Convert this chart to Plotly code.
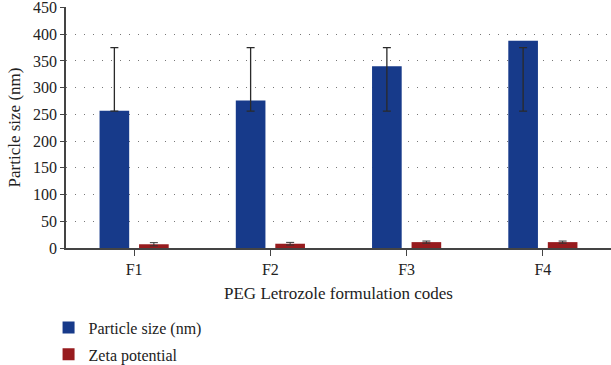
import plotly.graph_objects as go

categories = ["F1", "F2", "F3", "F4"]
particle_size = [257, 276, 340, 388]
particle_err_upper = [375, 375, 375, 375]
particle_err_lower = [256, 256, 256, 256]
zeta_potential = [7, 8, 11, 11]
zeta_err = [3, 2.5, 2, 2]
y_ticks = [0, 50, 100, 150, 200, 250, 300, 350, 400, 450]

FONT = "Liberation Serif"
BLUE = "#173a8a"
RED = "#971b1e"

fig = go.Figure()
fig.add_trace(go.Bar(
    x=categories, y=particle_size, name="Particle size (nm)",
    marker=dict(color=BLUE, line=dict(width=0)),
    error_y=dict(type="data", symmetric=False,
                 array=[u - v for u, v in zip(particle_err_upper, particle_size)],
                 arrayminus=[v - l for v, l in zip(particle_size, particle_err_lower)],
                 color="#2a2a2a", thickness=1.3, width=4),
    legendgroup="a",
))
fig.add_trace(go.Bar(
    x=categories, y=zeta_potential, name="Zeta potential",
    marker=dict(color=RED, line=dict(width=0)),
    error_y=dict(type="data", array=zeta_err, color="#333333", thickness=1, width=4),
    legendgroup="b",
))

fig.update_layout(
    width=611, height=365,
    margin=dict(l=66, r=0, t=7, b=117, autoexpand=False),
    paper_bgcolor="white", plot_bgcolor="white",
    barmode="group", bargap=0.42, bargroupgap=0.25,
    font=dict(family=FONT, size=16, color="#222222"),
    showlegend=True,
    legend=dict(orientation="v", x=-0.032, xanchor="left", y=-0.26, yanchor="top",
                font=dict(family=FONT, size=16, color="#222222"),
                tracegroupgap=3, bgcolor="rgba(0,0,0,0)"),
    xaxis=dict(
        title=dict(text="PEG Letrozole formulation codes", font=dict(family=FONT, size=17), standoff=10),
        showline=True, linecolor="#444444", linewidth=1.5,
        ticks="outside", ticklen=6, tickcolor="#444444",
        showgrid=False, tickfont=dict(family=FONT, size=16),
    ),
    yaxis=dict(
        title=dict(text="Particle size (nm)", font=dict(family=FONT, size=17), standoff=8),
        range=[0, 451], tickvals=y_ticks, ticklabeloverflow="allow",
        showline=True, linecolor="#444444", linewidth=1.5,
        ticks="outside", ticklen=4, tickcolor="#444444",
        showgrid=True, gridcolor="#777777", gridwidth=1, griddash="1px,8px",
        zeroline=False, tickfont=dict(family=FONT, size=16),
    ),
)

fig.write_html("out.html", config={"displayModeBar": False},
               post_script="document.body.style.margin='0';document.body.style.padding='0';")
